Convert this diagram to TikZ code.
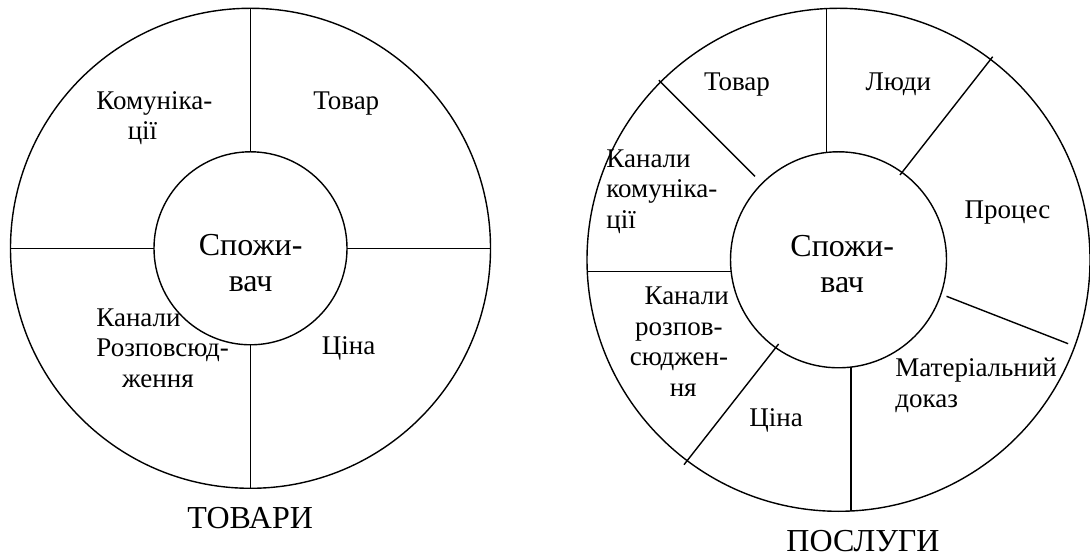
\documentclass[tikz,border=0pt]{standalone}
\usepackage{fontspec}
\setmainfont{Liberation Serif}
\begin{document}
\begin{tikzpicture}[x=0.5pt, y=0.5pt,
  rim/.style={line width=0.7pt},
  lbl/.style={inner sep=0pt, font=\fontsize{13.5}{15.3}\selectfont, align=center, anchor=base},
  lbll/.style={lbl, align=left, anchor=base west},
  core/.style={inner sep=0pt, font=\fontsize{16}{18}\selectfont, align=center, anchor=base},
  caption/.style={inner sep=0pt, font=\fontsize{16}{18}\selectfont, anchor=base}]
\useasboundingbox (0,0) rectangle (1090,556);
\begin{scope}[rim, shift={(250.5,307.7)}]
\draw (0,0) circle (240);
\draw (0,0) circle (96.5);
\draw (0,96.5) -- (0,240);
\draw (0,-96.5) -- (0,-240);
\draw (-240,0) -- (-96.5,0);
\draw (96.5,0) -- (240,0);
\end{scope}
\begin{scope}[rim, shift={(838.5,296.2)}]
\draw (0,0) circle (251.5);
\draw (0,0) circle (108);
\draw (-11.8,107.4) -- (-11.8,251.2);
\draw (135:118) -- (135:254);
\draw (61.5,84.8) -- (154.2,203.1);
\draw (-251.2,-11.9) -- (-107.3,-11.9);
\draw (108,-36.5) -- (229.6,-83.9);
\draw (12.3,-107.3) -- (12.3,-251.2);
\draw (-59.9,-84.2) -- (-154.5,-204.9);
\end{scope}
\node[lbl] (komL) at (154.3,416) {Комуніка-\\ції\hspace*{11.8pt}};
\node[lbl] (tovL) at (346.3,446) {Товар};
\node[core] (spozhL) at (250.6,264.3) {Спожи-\\вач};
\node[lbll] (kanalL) at (96,168.7) {Канали\\Розповсюд-\\\hspace*{12.85pt}ження};
\node[lbl] (tsinaL) at (348.7,201) {Ціна};
\node[caption] (tovary) at (250.2,27.7) {ТОВАРИ};
\node[lbl] (tovR) at (737,465.3) {Товар};
\node[lbl] (liudyR) at (898.3,465.3) {Люди};
\node[lbll] (komR) at (606,327.7) {Канали\\комуніка-\\ції};
\node[lbl] (protsR) at (1007.5,337.7) {Процес};
\node[core] (spozhR) at (842.2,263) {Спожи-\\вач};
\node[lbl] (rozpR) at (678.9,159.7) {\hspace*{7.8pt}Канали\\розпов-\hspace*{6.1pt}\\сюджен-\\\hspace*{4.3pt}ня};
\node[lbl] (tsinaR) at (776.2,129.7) {Ціна};
\node[lbll] (matR) at (895,148.5) {Матеріальний\\доказ};
\node[caption] (posluhy) at (863,4.7) {ПОСЛУГИ};
\end{tikzpicture}
\end{document}
